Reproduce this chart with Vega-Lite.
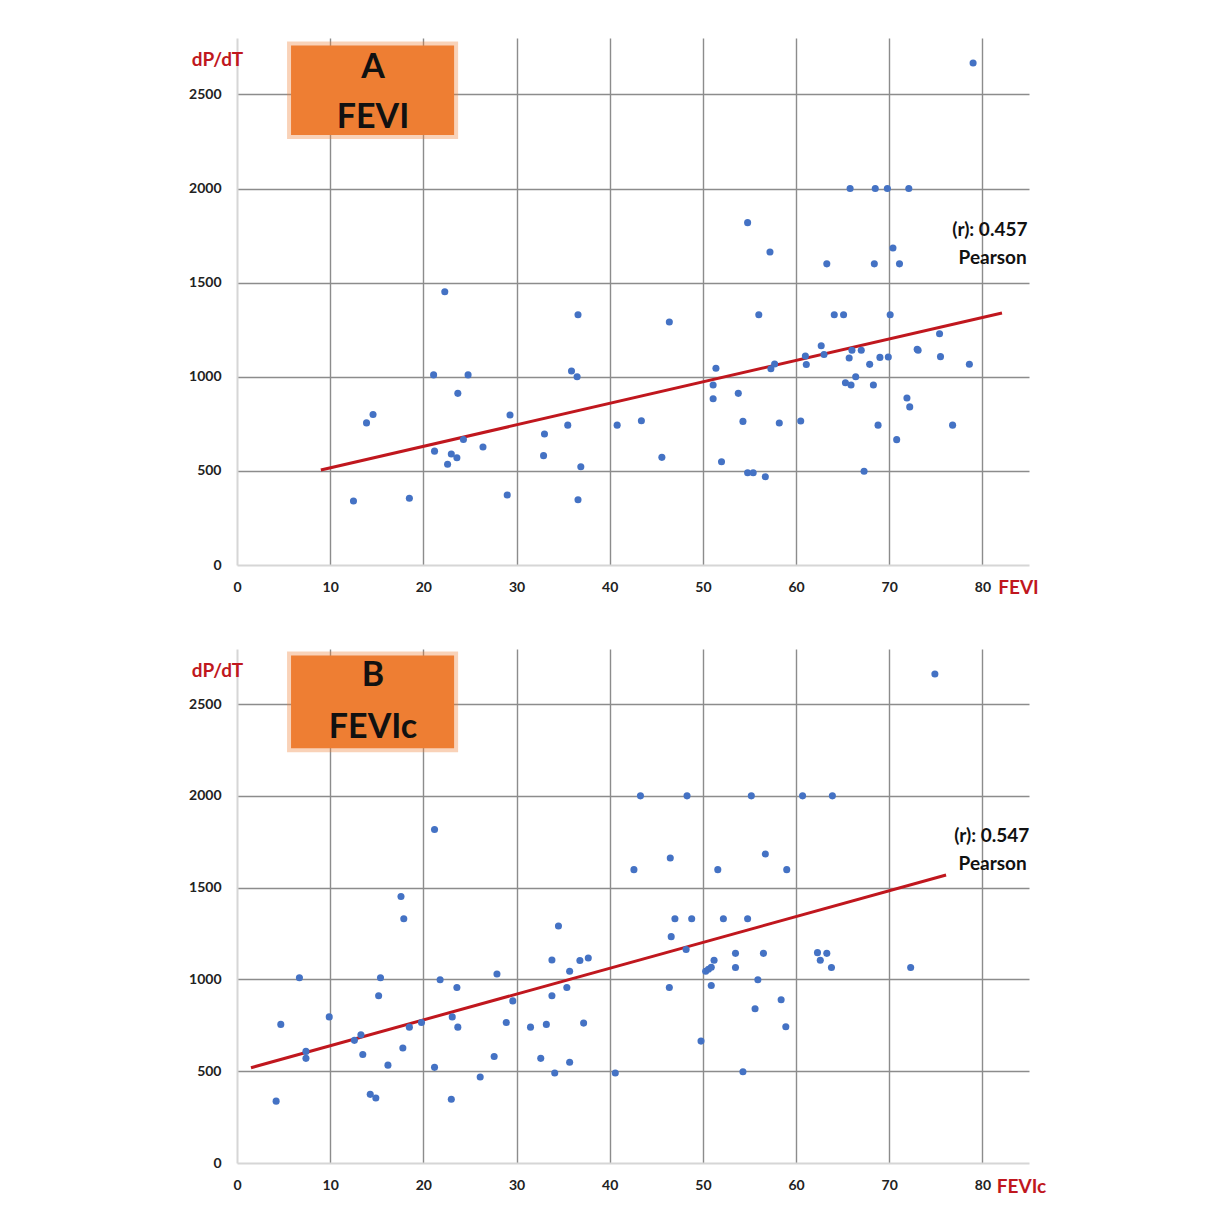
{
  "$schema": "https://vega.github.io/schema/vega-lite/v6.json",
  "padding": {"left": 188, "top": 38, "right": 10, "bottom": 10},
  "background": "white",
  "spacing": 52,
  "config": {
    "view": {"stroke": null},
    "font": "Lato",
    "axis": {
      "grid": true,
      "gridColor": "#8c8c8c",
      "gridWidth": 1.4,
      "domainColor": "#d6d6d6",
      "domainWidth": 2,
      "ticks": false,
      "tickSize": 0,
      "format": "d",
      "labelFont": "Lato",
      "labelFontWeight": "bold",
      "labelFontSize": 14,
      "labelColor": "#222222",
      "titleFont": "Lato",
      "titleFontWeight": "bold",
      "titleFontSize": 19,
      "titleColor": "#C0171E"
    }
  },
  "vconcat": [
    {
      "width": 792,
      "height": 527,
      "encoding": {
        "x": {"field": "x", "type": "quantitative", "scale": {"domain": [0, 85], "nice": false},
          "axis": {"values": [0, 10, 20, 30, 40, 50, 60, 70, 80], "format": "d", "title": "FEVI", "titleX": 781, "titleY": 22, "titleAlign": "center", "titleBaseline": "middle", "labelPadding": 22, "labelBaseline": "middle", "labelFlush": false,
            "gridOpacity": {"condition": {"test": "datum.value === 0", "value": 0}, "value": 1}}},
        "y": {"field": "y", "type": "quantitative", "scale": {"domain": [0, 2800], "nice": false},
          "axis": {"values": [0, 500, 1000, 1500, 2000, 2500], "format": "d", "title": "dP/dT", "titleAngle": 0, "titleX": -20, "titleY": 21, "titleAlign": "center", "titleBaseline": "middle", "labelPadding": 16, "labelFlush": false,
            "gridOpacity": {"condition": {"test": "datum.value === 0", "value": 0}, "value": 1}}}
      },
      "layer": [
        {
          "data": {"values": [{"x": 5.8, "x2": 23.3, "y": 2760, "y2": 2285}]},
          "mark": {"type": "rect", "fill": "#EE7E33", "stroke": "#EE7E33", "strokeOpacity": 0.35, "strokeWidth": 8},
          "encoding": {"x2": {"field": "x2"}, "y2": {"field": "y2"}}
        },
        {
          "data": {"values": [{"x": 14.6, "y": 2640, "label": "A"}, {"x": 14.6, "y": 2373, "label": "FEVI"}]},
          "mark": {"type": "text", "font": "Lato", "fontWeight": "bold", "fontSize": 34, "color": "#111111", "align": "center", "baseline": "middle"},
          "encoding": {"text": {"field": "label"}}
        },
        {
          "data": {"values": [{"x": 9.0, "y": 505}, {"x": 82.1, "y": 1339}]},
          "mark": {"type": "line", "color": "#C0171E", "strokeWidth": 3},
          "encoding": {}
        },
        {
          "data": {"values": [
            {"x": 12.5, "y": 340}, {"x": 13.9, "y": 755}, {"x": 14.6, "y": 800}, {"x": 18.5, "y": 355},
            {"x": 21.1, "y": 1010}, {"x": 21.2, "y": 605}, {"x": 22.6, "y": 535}, {"x": 23.0, "y": 590},
            {"x": 23.6, "y": 570}, {"x": 23.7, "y": 912}, {"x": 24.3, "y": 667}, {"x": 24.8, "y": 1010},
            {"x": 26.4, "y": 627}, {"x": 29.0, "y": 372}, {"x": 29.3, "y": 797}, {"x": 32.9, "y": 581},
            {"x": 33.0, "y": 696}, {"x": 35.5, "y": 743}, {"x": 35.9, "y": 1031}, {"x": 36.5, "y": 1000},
            {"x": 36.6, "y": 1330}, {"x": 36.6, "y": 347}, {"x": 36.9, "y": 522}, {"x": 40.8, "y": 743},
            {"x": 22.3, "y": 1452}, {"x": 43.4, "y": 766}, {"x": 45.6, "y": 572}, {"x": 46.4, "y": 1291},
            {"x": 51.1, "y": 956}, {"x": 51.1, "y": 883}, {"x": 51.4, "y": 1045}, {"x": 52.0, "y": 549},
            {"x": 53.8, "y": 912}, {"x": 54.3, "y": 763}, {"x": 54.8, "y": 490}, {"x": 55.4, "y": 490},
            {"x": 56.0, "y": 1330}, {"x": 56.7, "y": 469}, {"x": 57.3, "y": 1043}, {"x": 57.7, "y": 1068},
            {"x": 58.2, "y": 754}, {"x": 60.5, "y": 765}, {"x": 61.0, "y": 1110}, {"x": 61.1, "y": 1065},
            {"x": 62.7, "y": 1165}, {"x": 63.0, "y": 1118}, {"x": 64.1, "y": 1330}, {"x": 65.1, "y": 1330},
            {"x": 65.3, "y": 968}, {"x": 65.7, "y": 1100}, {"x": 65.9, "y": 956}, {"x": 66.0, "y": 1141},
            {"x": 66.4, "y": 1000}, {"x": 67.0, "y": 1141}, {"x": 67.3, "y": 498}, {"x": 67.9, "y": 1066},
            {"x": 68.3, "y": 956}, {"x": 68.8, "y": 743}, {"x": 69.0, "y": 1103}, {"x": 69.9, "y": 1105},
            {"x": 70.1, "y": 1330}, {"x": 70.8, "y": 666}, {"x": 71.9, "y": 887}, {"x": 72.2, "y": 840},
            {"x": 73.0, "y": 1146}, {"x": 73.1, "y": 1141}, {"x": 75.4, "y": 1229}, {"x": 75.5, "y": 1107},
            {"x": 76.8, "y": 743}, {"x": 78.6, "y": 1067}, {"x": 79.0, "y": 2667}, {"x": 65.8, "y": 2000},
            {"x": 68.5, "y": 2000}, {"x": 69.8, "y": 2000}, {"x": 72.1, "y": 2000}, {"x": 54.8, "y": 1819},
            {"x": 57.2, "y": 1663}, {"x": 63.3, "y": 1600}, {"x": 68.4, "y": 1600}, {"x": 71.1, "y": 1600},
            {"x": 70.4, "y": 1684}
          ]},
          "mark": {"type": "circle", "size": 50, "color": "#4472C4", "opacity": 1}
        },
        {
          "data": {"values": [{"x": 80.8, "y": 1778, "label": "(r): 0.457"}, {"x": 81.1, "y": 1630, "label": "Pearson"}]},
          "mark": {"type": "text", "font": "Lato", "fontWeight": "bold", "fontSize": 19, "color": "#111111", "align": "center", "baseline": "middle"},
          "encoding": {"text": {"field": "label"}}
        }
      ]
    },
    {
      "width": 792,
      "height": 514,
      "encoding": {
        "x": {"field": "x", "type": "quantitative", "scale": {"domain": [0, 85], "nice": false},
          "axis": {"values": [0, 10, 20, 30, 40, 50, 60, 70, 80], "format": "d", "title": "FEVIc", "titleX": 784, "titleY": 23, "titleAlign": "center", "titleBaseline": "middle", "labelPadding": 22, "labelBaseline": "middle", "labelFlush": false,
            "gridOpacity": {"condition": {"test": "datum.value === 0", "value": 0}, "value": 1}}},
        "y": {"field": "y", "type": "quantitative", "scale": {"domain": [0, 2800], "nice": false},
          "axis": {"values": [0, 500, 1000, 1500, 2000, 2500], "format": "d", "title": "dP/dT", "titleAngle": 0, "titleX": -20, "titleY": 21, "titleAlign": "center", "titleBaseline": "middle", "labelPadding": 16, "labelFlush": false,
            "gridOpacity": {"condition": {"test": "datum.value === 0", "value": 0}, "value": 1}}}
      },
      "layer": [
        {
          "data": {"values": [{"x": 5.8, "x2": 23.3, "y": 2765, "y2": 2260}]},
          "mark": {"type": "rect", "fill": "#EE7E33", "stroke": "#EE7E33", "strokeOpacity": 0.35, "strokeWidth": 8},
          "encoding": {"x2": {"field": "x2"}, "y2": {"field": "y2"}}
        },
        {
          "data": {"values": [{"x": 14.6, "y": 2655, "label": "B"}, {"x": 14.6, "y": 2370, "label": "FEVIc"}]},
          "mark": {"type": "text", "font": "Lato", "fontWeight": "bold", "fontSize": 34, "color": "#111111", "align": "center", "baseline": "middle"},
          "encoding": {"text": {"field": "label"}}
        },
        {
          "data": {"values": [{"x": 1.5, "y": 519}, {"x": 76.1, "y": 1569}]},
          "mark": {"type": "line", "color": "#C0171E", "strokeWidth": 3},
          "encoding": {}
        },
        {
          "data": {"values": [
            {"x": 21.2, "y": 1817}, {"x": 17.6, "y": 1452}, {"x": 17.9, "y": 1331}, {"x": 34.5, "y": 1291},
            {"x": 74.9, "y": 2664}, {"x": 43.3, "y": 2000}, {"x": 48.3, "y": 2000}, {"x": 55.2, "y": 2000},
            {"x": 60.7, "y": 2000}, {"x": 63.9, "y": 2000}, {"x": 42.6, "y": 1598}, {"x": 46.5, "y": 1661},
            {"x": 51.6, "y": 1598}, {"x": 56.7, "y": 1683}, {"x": 59.0, "y": 1598}, {"x": 47.0, "y": 1331},
            {"x": 48.8, "y": 1331}, {"x": 52.2, "y": 1331}, {"x": 54.8, "y": 1331}, {"x": 46.6, "y": 1233},
            {"x": 6.7, "y": 1009}, {"x": 15.4, "y": 1009}, {"x": 15.2, "y": 911}, {"x": 9.9, "y": 796},
            {"x": 4.7, "y": 755}, {"x": 7.4, "y": 608}, {"x": 7.4, "y": 570}, {"x": 12.6, "y": 668},
            {"x": 13.3, "y": 698}, {"x": 13.5, "y": 591}, {"x": 4.2, "y": 337}, {"x": 14.3, "y": 374},
            {"x": 14.9, "y": 354}, {"x": 16.2, "y": 533}, {"x": 17.8, "y": 626}, {"x": 18.5, "y": 740},
            {"x": 19.8, "y": 765}, {"x": 21.2, "y": 521}, {"x": 21.8, "y": 998}, {"x": 23.1, "y": 796},
            {"x": 23.6, "y": 956}, {"x": 23.7, "y": 740}, {"x": 23.0, "y": 347}, {"x": 26.1, "y": 468},
            {"x": 27.6, "y": 580}, {"x": 27.9, "y": 1030}, {"x": 28.9, "y": 765}, {"x": 29.6, "y": 883},
            {"x": 31.5, "y": 740}, {"x": 32.6, "y": 570}, {"x": 33.2, "y": 755}, {"x": 33.8, "y": 1106},
            {"x": 33.8, "y": 911}, {"x": 34.1, "y": 490}, {"x": 35.4, "y": 956}, {"x": 35.7, "y": 549},
            {"x": 35.7, "y": 1045}, {"x": 36.8, "y": 1103}, {"x": 37.2, "y": 762}, {"x": 37.7, "y": 1117},
            {"x": 40.6, "y": 490}, {"x": 48.2, "y": 1163}, {"x": 46.4, "y": 956}, {"x": 50.3, "y": 1045},
            {"x": 50.6, "y": 1055}, {"x": 50.9, "y": 1066}, {"x": 51.2, "y": 1104}, {"x": 50.9, "y": 967},
            {"x": 49.8, "y": 664}, {"x": 53.5, "y": 1142}, {"x": 53.5, "y": 1065}, {"x": 54.3, "y": 497},
            {"x": 55.6, "y": 840}, {"x": 55.9, "y": 998}, {"x": 56.5, "y": 1142}, {"x": 58.4, "y": 889},
            {"x": 58.9, "y": 742}, {"x": 62.3, "y": 1146}, {"x": 63.3, "y": 1142}, {"x": 62.6, "y": 1104},
            {"x": 63.8, "y": 1065}, {"x": 72.3, "y": 1065}
          ]},
          "mark": {"type": "circle", "size": 50, "color": "#4472C4", "opacity": 1}
        },
        {
          "data": {"values": [{"x": 81.0, "y": 1783, "label": "(r): 0.547"}, {"x": 81.1, "y": 1630, "label": "Pearson"}]},
          "mark": {"type": "text", "font": "Lato", "fontWeight": "bold", "fontSize": 19, "color": "#111111", "align": "center", "baseline": "middle"},
          "encoding": {"text": {"field": "label"}}
        }
      ]
    }
  ]
}
